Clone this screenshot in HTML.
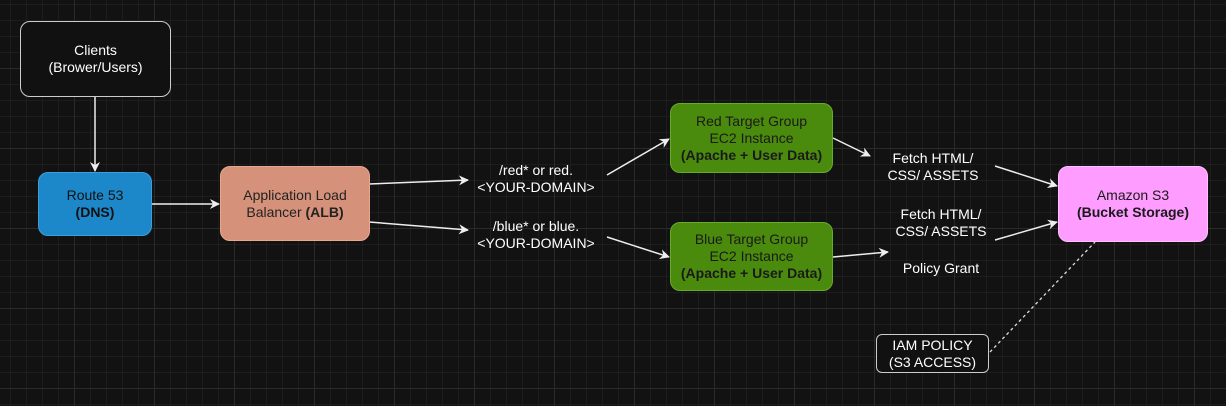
<!DOCTYPE html>
<html><head><meta charset="utf-8"><style>
html,body{margin:0;padding:0}
body{width:1226px;height:406px;overflow:hidden;background:#121212;
background-image:linear-gradient(#2a2a2a 1px,transparent 1px),linear-gradient(90deg,#2a2a2a 1px,transparent 1px),linear-gradient(#1d1d1d 1px,transparent 1px),linear-gradient(90deg,#1d1d1d 1px,transparent 1px);
background-size:80px 80px,80px 80px,16px 16px,16px 16px;background-position:-6px -12px;
font-family:"Liberation Sans",sans-serif;position:relative}
.n{position:absolute;box-sizing:border-box;border-radius:10px;display:flex;align-items:center;justify-content:center;text-align:center;font-size:14px;line-height:17px}
.n span{display:block;white-space:nowrap}
.l{position:absolute;color:#fff;font-size:14px;line-height:17px;text-align:center;transform:translateX(-50%);white-space:nowrap}
svg{position:absolute;left:0;top:0}
</style></head><body>
<svg width="1226" height="406">
<defs><marker id="a" markerWidth="10" markerHeight="10" refX="9" refY="5" orient="auto" markerUnits="userSpaceOnUse"><path d="M0,0 L10,5 L0,10 L3,5Z" fill="#eee"/></marker></defs>
<g stroke="#eee" stroke-width="1.5" fill="none" marker-end="url(#a)">
<line x1="95" y1="96" x2="95" y2="171"/>
<line x1="151" y1="204" x2="219" y2="204"/>
<line x1="369" y1="184" x2="468" y2="180"/>
<line x1="369" y1="222" x2="468" y2="230"/>
<line x1="607" y1="175" x2="669" y2="139"/>
<line x1="607" y1="237" x2="669" y2="257"/>
<line x1="833" y1="138" x2="870" y2="156"/>
<line x1="833" y1="257" x2="888" y2="252"/>
<line x1="995" y1="166" x2="1057" y2="186"/>
<line x1="995" y1="240" x2="1057" y2="222"/>
</g>
<line x1="990" y1="352" x2="1095" y2="242" stroke="#ddd" stroke-width="1.3" stroke-dasharray="3,3"/>
</svg>
<div class="n" style="left:20px;top:21px;width:151px;height:76px;background:#111;border:1.5px solid #ccc;color:#fff"><span>Clients<br>(Brower/Users)</span></div>
<div class="n" style="left:38px;top:172px;width:114px;height:64px;background:#1d88c9;border:1px solid #3aa0dd;color:#111"><span>Route 53<br><b>(DNS)</b></span></div>
<div class="n" style="left:220px;top:166px;width:150px;height:75px;background:#d5917a;border:1px solid #e8a890;color:#222"><span>Application Load<br>Balancer <b>(ALB)</b></span></div>
<div class="n" style="left:670px;top:103px;width:163px;height:70px;background:#4a8a0c;border:1px solid #6aaa2a;color:#1a1a1a"><span>Red Target Group<br>EC2 Instance<br><b>(Apache + User Data)</b></span></div>
<div class="n" style="left:670px;top:222px;width:163px;height:69px;background:#4a8a0c;border:1px solid #6aaa2a;color:#1a1a1a"><span>Blue Target Group<br>EC2 Instance<br><b>(Apache + User Data)</b></span></div>
<div class="n" style="left:1058px;top:166px;width:150px;height:76px;background:#ff9cff;border:1px solid #ffc0ff;color:#1a1a1a"><span>Amazon S3<br><b>(Bucket Storage)</b></span></div>
<div class="n" style="left:876px;top:334px;width:113px;height:39px;background:#111;border:1.5px solid #ccc;color:#fff;border-radius:6px"><span>IAM POLICY<br>(S3 ACCESS)</span></div>
<div class="l" style="left:536px;top:162px">/red* or red.<br>&lt;YOUR-DOMAIN&gt;</div>
<div class="l" style="left:536px;top:218px">/blue* or blue.<br>&lt;YOUR-DOMAIN&gt;</div>
<div class="l" style="left:933px;top:150px">Fetch HTML/<br>CSS/ ASSETS</div>
<div class="l" style="left:941px;top:206px">Fetch HTML/<br>CSS/ ASSETS</div>
<div class="l" style="left:941px;top:260px">Policy Grant</div>
</body></html>
